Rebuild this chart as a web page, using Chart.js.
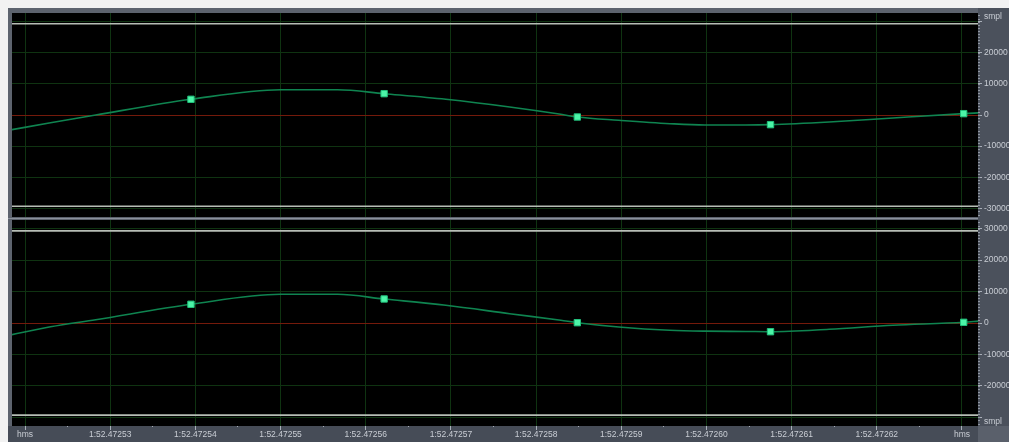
<!DOCTYPE html>
<html>
<head>
<meta charset="utf-8">
<script src="https://cdn.jsdelivr.net/npm/chart.js@4/dist/chart.umd.min.js"></script>
<style>
  html, body { margin: 0; padding: 0; background: #f2f2f2; width: 1009px; height: 442px; overflow: hidden; }
  #frame { position: absolute; left: 8px; top: 8px; width: 1001px; height: 434px; background: #5d636e; }
  #sep { position: absolute; left: 8px; top: 217px; width: 970px; height: 3px; background: #5d636e; }
  #sepLine { position: absolute; left: 8px; top: 218px; width: 970px; height: 1px; background: #8a909b; }
  #upper { position: absolute; left: 0; top: 0; width: 1009px; height: 217px; }
  #lower { position: absolute; left: 0; top: 217px; width: 1009px; height: 225px; }
</style>
</head>
<body>
<div id="frame"></div>
<div id="sep"></div>
<div id="sepLine"></div>
<canvas id="upper" width="1009" height="217"></canvas>
<canvas id="lower" width="1009" height="225"></canvas>
<script>
// Time axis: microseconds after 1:52.4725
const xMin = 18.47;
const xMax = 131.88;
const xTickTimes = [20, 30, 40, 50, 60, 70, 80, 90, 100, 110, 120, 130];
const xTickLabels = ['hms', '1:52.47253', '1:52.47254', '1:52.47255', '1:52.47256', '1:52.47257',
                     '1:52.47258', '1:52.47259', '1:52.47260', '1:52.47261', '1:52.47262', 'hms'];
const xMinorTimes = [25, 35, 45, 55, 65, 75, 85, 95, 105, 115, 125];

// Sample points (16-bit values)
const sampleTimes = [39.48, 62.16, 84.84, 107.52, 130.20];
const upperSamples = [5040, 6850, -640, -3100, 430];
const lowerSamples = [5950, 7640, 100, -2770, 220];

// Reconstructed waveform between samples
const curveTimes = [18.2, 23.0, 28.3, 39.48, 50.0, 56.7, 62.16, 69.4, 76.9, 82.9, 84.84,
                    89.7, 95.7, 99.8, 104.6, 107.52, 114.4, 121.9, 130.2, 132.0];
const upperCurve = [-4850, -2500, 0, 5040, 8130, 8130, 6850, 5040, 2570, 225, -640,
                    -1700, -2790, -3210, -3210, -3100, -2250, -960, 430, 700];
const lowerCurve = [-3840, -1200, 1050, 5950, 9130, 9130, 7640, 5630, 2960, 860, 100,
                    -1270, -2320, -2600, -2690, -2770, -2000, -740, 220, 630];

// Amplitude axis
const fullScale = 32768;
const clipLevel = 29300;
const minorStep = 1000;
const upperTickValues = [31500, 30000, 20000, 10000, 0, -10000, -20000, -30000];
const upperTickLabels = ['smpl', '', '20000', '10000', '0', '-10000', '-20000', '-30000'];
const lowerTickValues = [30000, 20000, 10000, 0, -10000, -20000, -30000, -31500];
const lowerTickLabels = ['30000', '20000', '10000', '0', '-10000', '-20000', '', 'smpl'];

const GRID = '#0f3311';
const ZERO = '#741a0b';
const TEXT = '#c9cdd4';
const TICK = '#a9afb9';
const FONT = { family: "'Liberation Sans', Arial, sans-serif", size: 8.5 };

const toPoints = (xs, ys) => xs.map((x, i) => ({ x, y: ys[i] }));

// Strip fills behind the axes and the black plotting field
const panelBackground = {
  id: 'panelBackground',
  beforeDraw(chart, args, opts) {
    const { ctx, chartArea: a, width, height } = chart;
    ctx.save();
    ctx.fillStyle = '#4b515c';
    ctx.fillRect(a.right, opts.stripTop, width - a.right, a.bottom - opts.stripTop);
    if (opts.bottomStrip) {
      ctx.fillStyle = '#464c57';
      ctx.fillRect(8, a.bottom, a.right - 8, height - a.bottom);
      ctx.fillStyle = '#5a606b';
      ctx.fillRect(a.right, a.bottom, width - a.right, height - a.bottom);
    }
    ctx.fillStyle = '#000000';
    ctx.fillRect(a.left, a.top, a.width, a.height);
    ctx.restore();
  },
  // dotted minor ticks along the amplitude ruler
  afterDraw(chart) {
    const { ctx, chartArea: a, scales } = chart;
    const y = scales.y;
    ctx.save();
    ctx.fillStyle = '#8f95a0';
    for (let v = -32000; v <= 32000; v += minorStep) {
      const py = Math.round(y.getPixelForValue(v));
      ctx.fillRect(a.right, py, 2, 1);
    }
    ctx.restore();
  }
};

function makePanel(canvasId, curve, samples, tickValues, tickLabels, isBottom) {
  const xTicks = isBottom ? xTickTimes.concat(xMinorTimes) : xTickTimes;
  return new Chart(document.getElementById(canvasId), {
    type: 'line',
    data: {
      datasets: [
        {
          data: toPoints(sampleTimes, samples),
          showLine: false,
          pointStyle: 'rect',
          pointRadius: 4.5,
          pointBackgroundColor: '#4cf5a8',
          pointBorderColor: '#22c07c',
          pointBorderWidth: 1,
          order: 0
        },
        {
          data: toPoints(curveTimes, curve),
          borderColor: '#0f8450',
          borderWidth: 1.6,
          pointRadius: 0,
          cubicInterpolationMode: 'monotone',
          order: 1
        },
        {
          data: [{ x: xMin, y: clipLevel }, { x: xMax, y: clipLevel }],
          borderColor: '#b7beb6',
          borderWidth: 1.6,
          pointRadius: 0,
          order: 2
        },
        {
          data: [{ x: xMin, y: -clipLevel }, { x: xMax, y: -clipLevel }],
          borderColor: '#b7beb6',
          borderWidth: 1.6,
          pointRadius: 0,
          order: 2
        }
      ]
    },
    options: {
      responsive: false,
      animation: false,
      events: [],
      layout: {
        autoPadding: false,
        padding: { left: 12, top: isBottom ? 3 : 13, right: 0, bottom: 0 }
      },
      plugins: {
        legend: { display: false },
        tooltip: { enabled: false },
        panelBackground: { stripTop: isBottom ? 0 : 8, bottomStrip: isBottom }
      },
      scales: {
        x: {
          type: 'linear',
          position: 'bottom',
          min: xMin,
          max: xMax,
          afterFit: s => {
            s.height = isBottom ? 16 : 0;
            s.paddingLeft = 0; s.paddingRight = 0;
          },
          afterBuildTicks: s => { s.ticks = xTicks.map(v => ({ value: v })); },
          ticks: {
            display: isBottom,
            autoSkip: false,
            maxRotation: 0,
            minRotation: 0,
            padding: 0,
            color: TEXT,
            font: FONT,
            callback: v => {
              const i = xTickTimes.indexOf(v);
              return i >= 0 ? xTickLabels[i] : '';
            }
          },
          grid: {
            drawTicks: isBottom,
            tickLength: 4,
            color: c => (xTickTimes.includes(c.tick && c.tick.value) ? GRID : 'rgba(0,0,0,0)'),
            tickColor: TICK,
            tickBorderDash: c => (xTickTimes.includes(c.tick && c.tick.value) ? [] : [1, 10])
          },
          border: { display: false }
        },
        y: {
          type: 'linear',
          position: 'right',
          min: -fullScale,
          max: fullScale,
          afterFit: s => {
            s.width = 31;
            s.paddingTop = 0; s.paddingBottom = 0;
          },
          afterBuildTicks: s => { s.ticks = tickValues.map(v => ({ value: v })); },
          ticks: {
            autoSkip: false,
            padding: 2,
            color: TEXT,
            font: FONT,
            callback: v => {
              const i = tickValues.indexOf(v);
              return i >= 0 ? tickLabels[i] : '';
            }
          },
          grid: {
            tickLength: 4,
            color: c => {
              const v = c.tick && c.tick.value;
              const i = tickValues.indexOf(v);
              if (i >= 0 && tickLabels[i] === 'smpl') return 'rgba(0,0,0,0)';
              return v === 0 ? ZERO : GRID;
            },
            tickColor: c => {
              const i = tickValues.indexOf(c.tick && c.tick.value);
              return i >= 0 && tickLabels[i] === 'smpl' ? 'rgba(0,0,0,0)' : TICK;
            }
          },
          border: { display: false }
        }
      }
    },
    plugins: [panelBackground]
  });
}

makePanel('upper', upperCurve, upperSamples, upperTickValues, upperTickLabels, false);
makePanel('lower', lowerCurve, lowerSamples, lowerTickValues, lowerTickLabels, true);
</script>
</body>
</html>
